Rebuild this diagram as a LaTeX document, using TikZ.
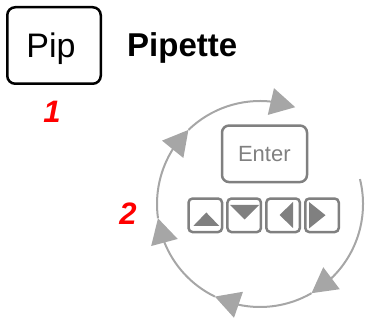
\documentclass[tikz,border=0pt]{standalone}
\usepackage{fontspec}
\setmainfont{Liberation Sans}
\usetikzlibrary{arrows.meta,bending}
\definecolor{ringgray}{HTML}{A6A6A6}
\definecolor{keygray}{HTML}{808080}
\definecolor{numred}{HTML}{FF0000}
\begin{document}
\begin{tikzpicture}[x=1pt,y=1pt,
  pipbox/.style={draw=black, line width=2.5pt, rounded corners=8pt, minimum width=93.5pt, minimum height=76.5pt, inner sep=0pt},
  enterbox/.style={draw=keygray, line width=2.5pt, rounded corners=7pt, minimum width=85pt, minimum height=56.5pt, inner sep=0pt},
  keybox/.style={draw=keygray, line width=2.5pt, rounded corners=4pt, minimum width=33.5pt, minimum height=33.5pt, inner sep=0pt},
  keytri/.style={fill=keygray, draw=none},
  ring/.style={draw=ringgray, line width=2pt, -{Triangle[length=25pt,width=27pt,color=ringgray]}},
  num/.style={text=numred, font=\fontsize{31}{35}\selectfont\bfseries\itshape, inner sep=0pt, anchor=base},
]
\useasboundingbox (0,0) rectangle (366,320);

% Pip box and title
\node[pipbox] (pip) at (54,274.5) {};
\node[anchor=base, inner sep=0pt, font=\fontsize{34}{40}\selectfont] (piptext) at (51,262.7) {Pip};
\node[anchor=base west, inner sep=0pt, font=\fontsize{33}{40}\selectfont\bfseries] (title) at (127,263) {Pipette};

% numbers
\node[num] (n1) at (52,197) {1};
\node[num] (n2) at (128,95) {2};

% Enter key
\node[enterbox] (enter) at (264.5,166.2) {};
\node[anchor=base, inner sep=0pt, text=keygray, font=\fontsize{22}{26}\selectfont] (entertext) at (264.3,158.3) {Enter};

% arrow keys
\node[keybox] (kup) at (205.3,104.7) {};
\node[keybox] (kdown) at (244.2,104.7) {};
\node[keybox] (kleft) at (283.1,104.7) {};
\node[keybox] (kright) at (322,104.7) {};
\fill[keytri] (193.3,94) -- (219.3,94) -- (206.3,107.5) -- cycle;
\fill[keytri] (230,115) -- (259,115) -- (244.5,100.5) -- cycle;
\fill[keytri] (293,118) -- (293,92) -- (279.5,105) -- cycle;
\fill[keytri] (309,118) -- (309,91.5) -- (325.5,104.8) -- cycle;

% cycle ring
\coordinate (c) at (260,116);
\draw[ring] (c) ++(14:103pt) arc[start angle=14, end angle=-60, radius=103pt];
\draw[ring] (c) ++(-60:103pt) arc[start angle=-60, end angle=-116, radius=103pt];
\draw[ring] (c) ++(-116:103pt) arc[start angle=-116, end angle=-172, radius=103pt];
\draw[ring] (c) ++(-172:103pt) arc[start angle=-172, end angle=-226, radius=103pt];
\draw[ring] (c) ++(-226:103pt) arc[start angle=-226, end angle=-290, radius=103pt];
\end{tikzpicture}
\end{document}
